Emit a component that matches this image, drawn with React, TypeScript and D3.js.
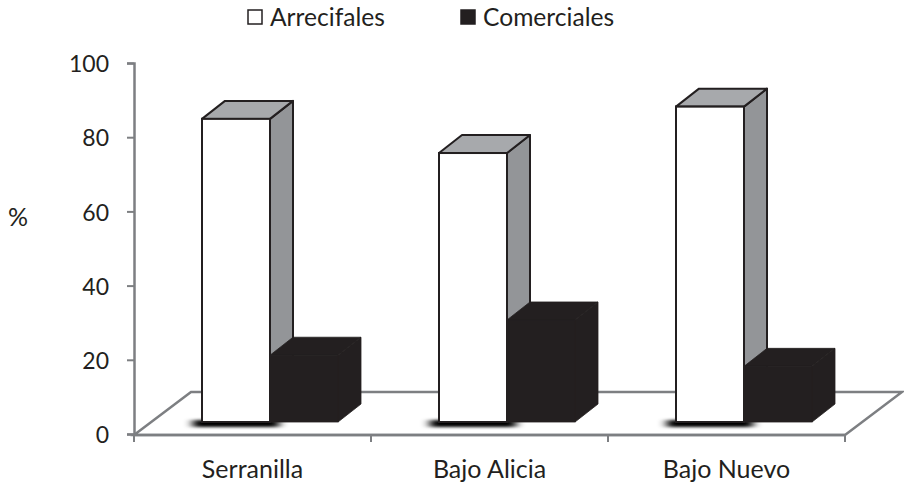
import * as d3 from "d3";
import { useEffect, useRef } from "react";

const categories = ["Serranilla", "Bajo Alicia", "Bajo Nuevo"];
const series = ["Arrecifales", "Comerciales"];
const arrecifales = [81.7, 72.5, 85];
const comerciales = [18, 27.5, 15];
const yTicks = [0, 20, 40, 60, 80, 100];

const ink = "#231f20";
const axisGrey = "#7d7f82";
const font = "Lato, 'Open Sans', sans-serif";

const App = () => {
  const svgRef = useRef<SVGSVGElement | null>(null);

  useEffect(() => {
    const svg = d3.select(svgRef.current);
    svg.selectAll("*").remove();

    const left = 134;
    const right = 845;
    const top = 63;
    const bottom = 434;

    const xScale = d3.scaleBand().domain(categories).range([left, right]);
    const inner = d3.scaleBand().domain(series).range([68, 204]);
    const yScale = d3.scaleLinear().domain([0, 100]).range([bottom, top]);

    // bars stand a bit behind the front edge of the floor
    const baseLift = 12;
    const depthX = 23;
    const depthY = 18;

    const defs = svg.append("defs");
    defs
      .append("filter")
      .attr("id", "blur")
      .attr("x", "-30%")
      .attr("y", "-200%")
      .attr("width", "160%")
      .attr("height", "500%")
      .append("feGaussianBlur")
      .attr("stdDeviation", "5 1.5");

    // Floor
    const floorDx = 57;
    const floorDy = 43;
    svg
      .append("polygon")
      .attr(
        "points",
        [
          [left, bottom + 1],
          [left + floorDx, bottom + 1 - floorDy],
          [right + floorDx, bottom + 1 - floorDy],
          [right, bottom + 1],
        ].join(" ")
      )
      .attr("fill", "#fff")
      .attr("stroke", axisGrey)
      .attr("stroke-width", 2.5);

    // Axes
    const yAxis = svg
      .append("g")
      .attr("transform", `translate(${left}, 0)`)
      .call(d3.axisLeft(yScale).tickValues(yTicks).tickSize(7).tickPadding(18));
    const xAxis = svg
      .append("g")
      .attr("transform", `translate(0, ${bottom + 1})`)
      .call(d3.axisBottom(xScale).tickSizeOuter(7).tickSize(7).tickPadding(18));

    [yAxis, xAxis].forEach((axis) => {
      axis.selectAll("path").attr("stroke", axisGrey).attr("stroke-width", 2.5);
      axis.selectAll("line").attr("stroke", axisGrey).attr("stroke-width", 2);
      axis
        .selectAll("text")
        .attr("fill", ink)
        .attr("font-family", font)
        .attr("font-size", 25);
    });
    yAxis.selectAll("text").attr("font-size", 23).attr("dy", "0.38em");

    // inner ticks of the x axis sit between the categories
    xAxis.selectAll("line").remove();
    xScale
      .domain()
      .map((c) => xScale(c) as number)
      .concat(right)
      .forEach((x) => {
        xAxis
          .append("line")
          .attr("x1", x)
          .attr("x2", x)
          .attr("y1", 0)
          .attr("y2", 7)
          .attr("stroke", axisGrey)
          .attr("stroke-width", 2);
      });
    xAxis.selectAll("path").attr("d", `M${left},0H${right}`);

    const baseY = bottom - baseLift;

    const drawBox = (
      g: d3.Selection<SVGGElement, unknown, null, undefined>,
      x: number,
      w: number,
      topY: number,
      front: string,
      side: string,
      roof: string,
      stroke: string,
      strokeWidth: number
    ) => {
      const sideBack = x + w + depthX;
      g.append("polygon")
        .attr(
          "points",
          [
            [x + w, topY],
            [sideBack, topY - depthY],
            [sideBack, baseY - depthY],
            [x + w, baseY],
          ].join(" ")
        )
        .attr("fill", side)
        .attr("stroke", stroke)
        .attr("stroke-width", strokeWidth)
        .attr("stroke-linejoin", "round");
      g.append("polygon")
        .attr(
          "points",
          [
            [x, topY],
            [x + depthX, topY - depthY],
            [sideBack, topY - depthY],
            [x + w, topY],
          ].join(" ")
        )
        .attr("fill", roof)
        .attr("stroke", stroke)
        .attr("stroke-width", strokeWidth)
        .attr("stroke-linejoin", "round");
      g.append("rect")
        .attr("x", x)
        .attr("y", topY)
        .attr("width", w)
        .attr("height", baseY - topY)
        .attr("fill", front)
        .attr("stroke", stroke)
        .attr("stroke-width", strokeWidth);
    };

    // Bars
    categories.forEach((category, i) => {
      const g = svg.append("g");
      const x0 = xScale(category) as number;
      const xA = x0 + (inner(series[0]) as number);
      const xC = x0 + (inner(series[1]) as number);
      const w = inner.bandwidth();

      // soft shadow along the foot of the white bar
      g.append("rect")
        .attr("x", xA - 9)
        .attr("y", baseY - 2)
        .attr("width", w + 18)
        .attr("height", 7)
        .attr("fill", "#000")
        .attr("filter", "url(#blur)");

      // grey side and roof first, the black bar covers the low part of the side
      const topA = yScale(arrecifales[i]) - baseLift;
      const topC = yScale(comerciales[i]) - baseLift;
      drawBox(g, xA, w, topA, "#fff", "#939598", "#a7a9ac", ink, 2);
      drawBox(g, xC, w, topC, ink, ink, ink, ink, 0.8);
      g.append("rect")
        .attr("x", xA)
        .attr("y", topA)
        .attr("width", w)
        .attr("height", baseY - topA)
        .attr("fill", "#fff")
        .attr("stroke", ink)
        .attr("stroke-width", 2);
    });

    // y title
    svg
      .append("text")
      .attr("x", 18)
      .attr("y", 226)
      .attr("text-anchor", "middle")
      .attr("fill", ink)
      .attr("font-family", font)
      .attr("font-size", 25)
      .text("%");

    // Legend
    const legendX = [248, 461];
    series.forEach((name, i) => {
      svg
        .append("rect")
        .attr("x", legendX[i])
        .attr("y", 10)
        .attr("width", 14)
        .attr("height", 14)
        .attr("fill", i === 0 ? "#fff" : ink)
        .attr("stroke", ink)
        .attr("stroke-width", 1.5);
      svg
        .append("text")
        .attr("x", legendX[i] + 22)
        .attr("y", 26)
        .attr("fill", ink)
        .attr("font-family", font)
        .attr("font-size", 24.6)
        .text(name);
    });
  }, []);

  return (
    <svg
      ref={svgRef}
      width={904}
      height={484}
      style={{ position: "absolute", left: 0, top: 0, background: "#fff" }}
    />
  );
};

export default App;
